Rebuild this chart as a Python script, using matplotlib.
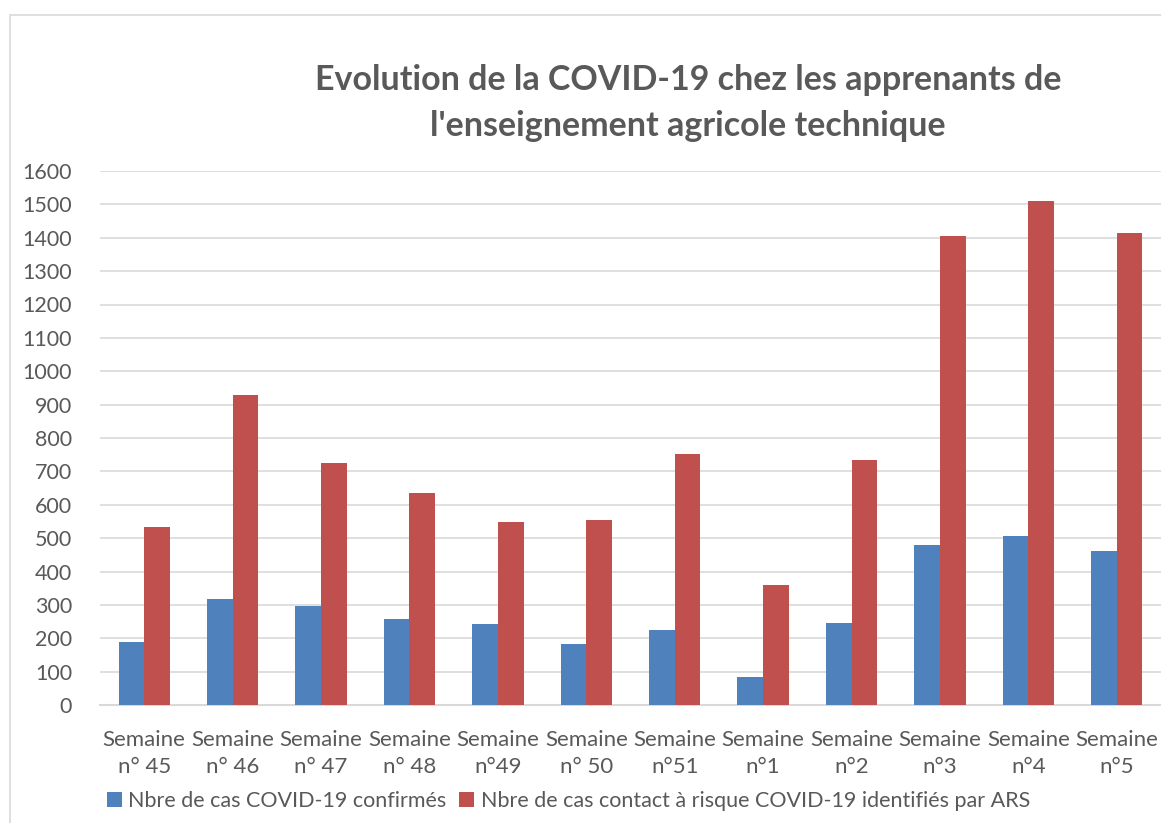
import matplotlib.pyplot as plt
import numpy as np
from matplotlib.patches import Rectangle

plt.rcParams['font.family'] = ['Lato', 'DejaVu Sans']

semaines = ["Semaine\nn° 45", "Semaine\nn° 46", "Semaine\nn° 47", "Semaine\nn° 48",
            "Semaine\nn°49", "Semaine\nn° 50", "Semaine\nn°51", "Semaine\nn°1",
            "Semaine\nn°2", "Semaine\nn°3", "Semaine\nn°4", "Semaine\nn°5"]
cas_confirmes = [190, 317, 298, 257, 243, 183, 225, 84, 246, 479, 506, 461]
cas_contact = [533, 928, 725, 635, 547, 554, 752, 359, 734, 1405, 1510, 1413]

bleu = "#4F81BD"
rouge = "#C0504D"
gris = "#595959"

fig = plt.figure(figsize=(11.61, 8.23), dpi=100)
# cadre du graphique (coupé à droite et en bas)
fig.patches.append(Rectangle((10 / 1161, -0.1), 1.2, (823 - 15) / 823 + 0.1,
                             transform=fig.transFigure, fill=False,
                             edgecolor="#D9D9D9", linewidth=1.2))

ax = fig.add_axes([100 / 1161, 118 / 823, 1061 / 1161, 534 / 823])
x = np.arange(len(semaines))
w = 0.29
ax.bar(x - w / 2, cas_confirmes, w, color=bleu, label="Nbre de cas COVID-19 confirmés", zorder=3)
ax.bar(x + w / 2, cas_contact, w, color=rouge, label="Nbre de cas contact à risque COVID-19 identifiés par ARS", zorder=3)

ax.set_xlim(-0.5, len(semaines) - 0.5)
ax.set_ylim(0, 1600)
ax.set_yticks(range(0, 1601, 100))
ax.set_xticks(x)
ax.set_xticklabels(semaines, fontsize=16, color=gris, linespacing=1.45)
ax.tick_params(axis='y', labelsize=15.5, labelcolor=gris, length=0, pad=20)
ax.tick_params(axis='x', length=0, pad=18)
ax.grid(axis='y', color="#D9D9D9", linewidth=1.2, zorder=0)
for s in ["top", "right", "left"]:
    ax.spines[s].set_visible(False)
ax.spines["bottom"].set_color("#D9D9D9")
ax.spines["bottom"].set_linewidth(1.5)

fig.text(688 / 1161, 1 - 103 / 823,
         "Evolution de la COVID-19 chez les apprenants de\nl'enseignement agricole technique",
         ha="center", va="center", fontsize=24.5, fontweight="bold", color=gris, linespacing=1.5)

fig.legend(loc="lower left", bbox_to_anchor=(98 / 1161, 3 / 823), ncol=2, frameon=False,
           fontsize=15.5, labelcolor=gris, handlelength=0.7, handleheight=0.7,
           handletextpad=0.3, columnspacing=0.6, borderaxespad=0)

fig.savefig("out.png", dpi=100)
